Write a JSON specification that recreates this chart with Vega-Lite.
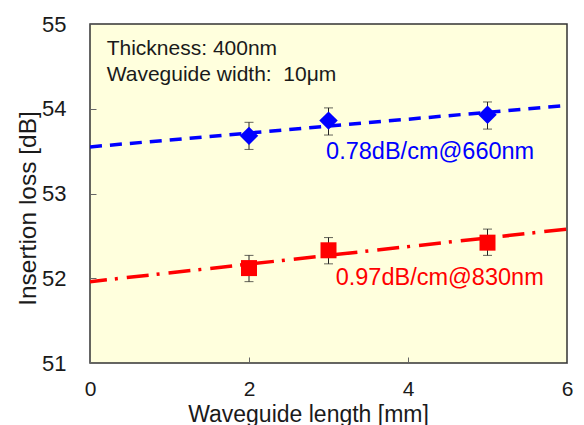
{
  "$schema": "https://vega.github.io/schema/vega-lite/v6.json",
  "autosize": {"type": "none"},
  "width": 477,
  "height": 339,
  "padding": {"left": 90, "top": 24, "right": 17, "bottom": 62},
  "background": "white",
  "config": {
    "font": "Liberation Sans",
    "view": {"fill": "#FFFFDD", "stroke": "#333333", "strokeWidth": 1.5},
    "axis": {
      "grid": false,
      "domain": false,
      "tickColor": "#666666",
      "tickSize": -6,
      "labelFont": "Liberation Sans",
      "labelFontSize": 22,
      "labelColor": "#1a1a1a",
      "titleFont": "Liberation Sans",
      "titleFontWeight": "normal",
      "titleColor": "#1a1a1a"
    }
  },
  "datasets": {
    "points": [
      {"length": 2, "wl": "660nm", "loss": 53.68, "lo": 53.52, "hi": 53.84},
      {"length": 3, "wl": "660nm", "loss": 53.86, "lo": 53.69, "hi": 54.01},
      {"length": 5, "wl": "660nm", "loss": 53.93, "lo": 53.76, "hi": 54.08},
      {"length": 2, "wl": "830nm", "loss": 52.12, "lo": 51.96, "hi": 52.27},
      {"length": 3, "wl": "830nm", "loss": 52.33, "lo": 52.17, "hi": 52.48},
      {"length": 5, "wl": "830nm", "loss": 52.42, "lo": 52.27, "hi": 52.58}
    ],
    "fits": [
      {"length": 0, "wl": "660nm", "loss": 53.55},
      {"length": 6, "wl": "660nm", "loss": 54.04},
      {"length": 0, "wl": "830nm", "loss": 51.96},
      {"length": 6, "wl": "830nm", "loss": 52.58}
    ],
    "labels": [
      {"length": 0.21, "loss": 54.64, "text": "Thickness: 400nm", "kind": "info"},
      {"length": 0.21, "loss": 54.33, "text": "Waveguide width: \u00a010μm", "kind": "info"},
      {"length": 2.97, "loss": 53.41, "text": "0.78dB/cm@660nm", "kind": "660nm"},
      {"length": 3.09, "loss": 51.92, "text": "0.97dB/cm@830nm", "kind": "830nm"}
    ]
  },
  "encoding": {
    "x": {
      "field": "length", "type": "quantitative",
      "scale": {"domain": [0, 6], "nice": false, "zero": false},
      "axis": {
        "values": [0, 2, 4, 6],
        "title": "Waveguide length [mm]",
        "titleFontSize": 23,
        "titleX": 218,
        "titleY": 58,
        "titleBaseline": "alphabetic",
        "titleAlign": "center",
        "labelFontSize": 21,
        "labelPadding": 21,
        "labelFlush": false
      }
    },
    "y": {
      "field": "loss", "type": "quantitative",
      "scale": {"domain": [51, 55], "nice": false, "zero": false},
      "axis": {
        "values": [51, 52, 53, 54, 55],
        "title": "Insertion loss [dB]",
        "titleFontSize": 24.5,
        "titleAngle": 270,
        "titleX": -55,
        "titleY": 184,
        "titleBaseline": "alphabetic",
        "titleAlign": "center",
        "labelPadding": 30,
        "labelFlush": false
      }
    }
  },
  "layer": [
    {
      "data": {"name": "fits"},
      "transform": [{"filter": "datum.wl === '660nm'"}],
      "mark": {"type": "line", "color": "#0000FF", "strokeWidth": 3.5, "strokeDash": [12, 8], "clip": true},
      "encoding": {}
    },
    {
      "data": {"name": "fits"},
      "transform": [{"filter": "datum.wl === '830nm'"}],
      "mark": {"type": "line", "color": "#FF0000", "strokeWidth": 3.5, "strokeDash": [22, 8, 3, 9], "strokeDashOffset": 5, "clip": true},
      "encoding": {}
    },
    {
      "data": {"name": "points"},
      "mark": {"type": "rule", "color": "#222222", "strokeWidth": 1},
      "encoding": {"y": {"field": "lo", "type": "quantitative"}, "y2": {"field": "hi"}}
    },
    {
      "data": {"name": "points"},
      "mark": {"type": "tick", "orient": "horizontal", "color": "#222222", "size": 9, "thickness": 1},
      "encoding": {"y": {"field": "lo", "type": "quantitative"}}
    },
    {
      "data": {"name": "points"},
      "mark": {"type": "tick", "orient": "horizontal", "color": "#222222", "size": 9, "thickness": 1},
      "encoding": {"y": {"field": "hi", "type": "quantitative"}}
    },
    {
      "data": {"name": "points"},
      "mark": {"type": "point", "filled": true, "opacity": 1},
      "encoding": {
        "shape": {"field": "wl", "type": "nominal", "scale": {"domain": ["660nm", "830nm"], "range": ["diamond", "square"]}, "legend": null},
        "color": {"field": "wl", "type": "nominal", "scale": {"domain": ["660nm", "830nm"], "range": ["#0000FF", "#FF0000"]}, "legend": null},
        "size": {"field": "wl", "type": "nominal", "scale": {"domain": ["660nm", "830nm"], "range": [340, 256]}, "legend": null}
      }
    },
    {
      "data": {"name": "labels"},
      "transform": [{"filter": "datum.kind === 'info'"}],
      "mark": {"type": "text", "align": "left", "baseline": "alphabetic", "fontSize": 21, "color": "#1a1a1a"},
      "encoding": {"text": {"field": "text"}}
    },
    {
      "data": {"name": "labels"},
      "transform": [{"filter": "datum.kind !== 'info'"}],
      "mark": {"type": "text", "align": "left", "baseline": "alphabetic", "fontSize": 23.5},
      "encoding": {
        "text": {"field": "text"},
        "color": {"field": "kind", "type": "nominal", "scale": {"domain": ["660nm", "830nm"], "range": ["#0000FF", "#FF0000"]}, "legend": null}
      }
    }
  ]
}
